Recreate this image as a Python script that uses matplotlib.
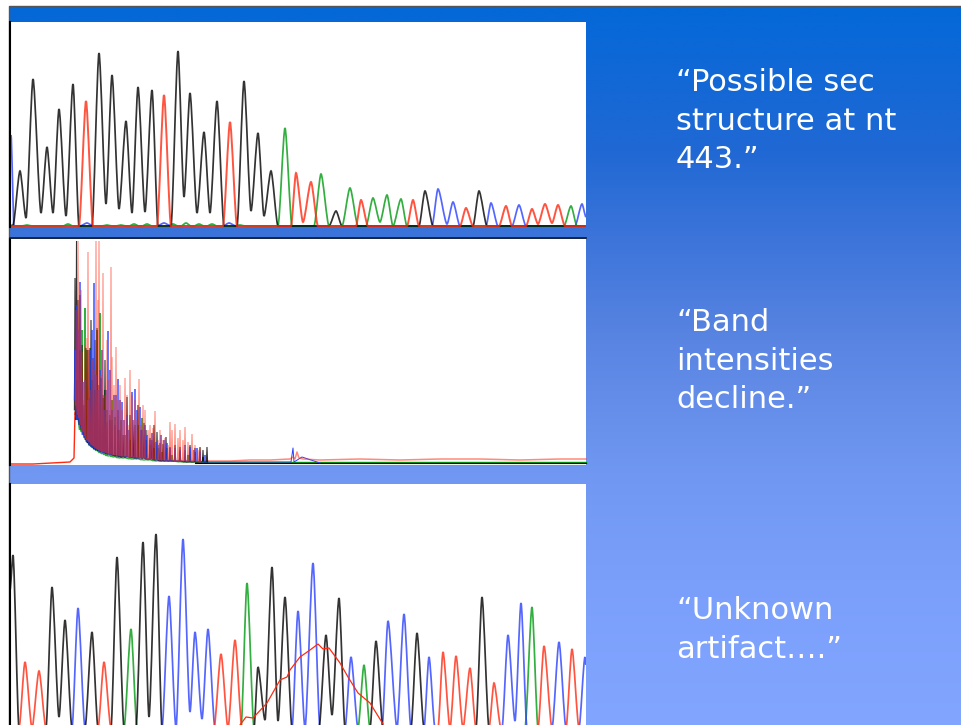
import numpy as np
import matplotlib
matplotlib.use("Agg")
import matplotlib.pyplot as plt
from matplotlib.colors import LinearSegmentedColormap
from matplotlib.patches import PathPatch, Rectangle
from matplotlib.path import Path

BLACK = "#000000"
RED = "#ff2a10"
GREEN = "#009a10"
BLUE = "#2a40ff"

# top trace, turning points of each channel
top_black_x = [10, 13, 20, 26, 33, 41, 47, 53, 59, 66, 73, 79, 92, 99, 106, 112, 119, 126, 132, 138, 145, 152, 158, 171, 178, 184, 190, 197, 204, 210, 217, 224, 237, 244, 251, 258, 264, 271, 278, 329, 336, 342, 419, 425, 433, 473, 479, 487, 586]
top_black_y = [226, 225, 171, 218, 79, 213, 147, 213, 109, 216, 84, 226, 226, 53, 204, 75, 209, 121, 213, 87, 212, 90, 226, 226, 51, 197, 93, 213, 132, 213, 101, 226, 226, 81, 211, 133, 216, 171, 226, 226, 211, 226, 226, 191, 226, 226, 191, 226, 226]
top_red_x = [10, 79, 86, 93, 157, 164, 171, 223, 230, 237, 291, 296, 303, 311, 318, 356, 361, 368, 407, 413, 419, 460, 466, 473, 499, 506, 512, 526, 532, 538, 545, 552, 558, 565, 586]
top_red_y = [226, 226, 101, 226, 226, 95, 226, 226, 122, 226, 226, 173, 222, 182, 226, 226, 200, 226, 226, 200, 226, 226, 208, 226, 226, 206, 226, 226, 209, 224, 204, 223, 205, 226, 226]
top_green_x = [10, 22, 27, 32, 63, 68, 73, 102, 107, 112, 116, 121, 126, 129, 134, 139, 142, 147, 152, 168, 173, 178, 181, 186, 191, 194, 199, 204, 207, 212, 217, 235, 240, 245, 278, 285, 292, 314, 321, 329, 342, 350, 358, 366, 373, 380, 387, 393, 401, 407, 564, 571, 577, 586]
top_green_y = [226, 226, 225, 226, 226, 224, 226, 226, 225, 226, 226, 225, 226, 226, 224, 226, 226, 224, 226, 226, 224, 226, 226, 223, 226, 226, 224, 226, 226, 224, 226, 226, 225, 226, 226, 128, 226, 226, 174, 226, 226, 188, 226, 226, 198, 222, 195, 226, 199, 226, 226, 206, 226, 226]
top_blue_x = [11, 14, 80, 87, 93, 157, 164, 171, 223, 229, 236, 432, 438, 447, 453, 460, 486, 491, 498, 512, 519, 526, 575, 582, 586]
top_blue_y = [135, 226, 226, 223, 226, 226, 223, 226, 226, 223, 226, 226, 189, 224, 202, 226, 226, 203, 226, 226, 205, 226, 226, 204, 217]

# middle trace, one spike per entry
mid_red_x = [78, 82, 87, 88, 92, 96, 99, 103, 108, 111, 112, 116, 120, 125, 130, 135, 139, 145, 150, 155, 160, 165, 170, 175, 180, 185, 192, 200,
             76, 79, 81, 84, 85, 90, 94, 98, 101, 105, 107, 110, 114, 118, 122, 127, 129, 132, 137, 141, 143, 148, 153, 158, 163, 168, 172, 178, 183, 188, 195, 198]
mid_red_top = [241, 352, 338, 252, 360, 241, 241, 273, 380, 267, 357, 347, 385, 378, 370, 400, 379, 410, 425, 411, 430, 438, 422, 424, 430, 427, 434, 448,
               310, 330, 290, 400, 345, 390, 370, 300, 375, 395, 340, 410, 385, 400, 410, 395, 425, 395, 420, 425, 405, 430, 428, 440, 440, 445, 430, 438, 440, 442, 445, 450]
mid_red_foot = [415, 430, 440, 440, 445, 448, 450, 452, 453, 454, 454, 455, 456, 456, 457, 457, 458, 458, 459, 459, 460, 460, 460, 461, 461, 461, 461, 462,
                405, 418, 425, 432, 436, 442, 446, 449, 451, 452, 453, 454, 455, 455, 456, 456, 457, 457, 457, 458, 458, 459, 459, 460, 460, 460, 460, 461, 461, 461, 461, 462]
mid_blue_x = [77, 80, 83, 88, 94, 100, 104, 108, 114, 118, 122, 127, 132, 135, 140, 145, 152, 156, 161, 167, 175, 185, 197, 205,
              75, 78, 81, 85, 90, 92, 96, 98, 102, 106, 110, 112, 116, 120, 124, 129, 137, 142, 147, 150, 158, 164, 170, 180, 190, 194, 200]
mid_blue_top = [305, 282, 382, 400, 283, 370, 410, 331, 395, 379, 402, 415, 392, 389, 407, 425, 433, 442, 435, 443, 448, 445, 448, 455,
                350, 330, 360, 380, 350, 330, 375, 390, 350, 390, 370, 410, 395, 400, 420, 430, 410, 430, 435, 440, 445, 440, 448, 450, 447, 450, 452]
mid_blue_foot = [420, 425, 435, 442, 448, 452, 453, 454, 455, 456, 456, 457, 457, 458, 458, 458, 459, 460, 460, 461, 461, 461, 461, 462,
                 400, 415, 428, 438, 445, 447, 449, 450, 452, 453, 454, 455, 455, 456, 456, 457, 458, 458, 459, 459, 460, 460, 461, 461, 461, 461, 462]
mid_black_x = [75, 76, 76.5, 80, 84, 86, 90, 93, 97, 101, 107, 112, 120, 127, 135, 144, 150, 154, 160, 166, 175, 190, 200, 207,
               77, 78, 82, 88, 91, 95, 99, 103, 105, 110, 115, 118, 123, 130, 133, 138, 141, 146, 152, 157, 163, 170, 180, 185, 195, 203]
mid_black_top = [278, 395, 241, 295, 405, 348, 398, 358, 328, 378, 422, 420, 430, 397, 425, 423, 438, 425, 443, 437, 445, 445, 447, 447,
                 340, 300, 345, 350, 320, 340, 385, 395, 360, 415, 425, 410, 435, 415, 420, 405, 430, 430, 440, 432, 444, 447, 447, 450, 448, 450]
mid_black_foot = [410, 415, 420, 425, 435, 440, 445, 448, 450, 452, 454, 455, 457, 457, 458, 458, 459, 460, 461, 461, 461, 462, 462, 462,
                  415, 418, 430, 443, 446, 449, 451, 452, 453, 454, 456, 456, 457, 457, 458, 458, 458, 459, 459, 460, 461, 461, 461, 462, 462, 462]
mid_green_x = [80, 85, 90, 95, 100, 103, 110, 115, 125, 135, 142, 150, 158, 167, 180, 195,
               77, 82, 87, 92, 97, 105, 107, 112, 118, 121, 130, 138, 146, 154, 162, 172, 188, 203]
mid_green_top = [350, 308, 348, 390, 313, 398, 420, 417, 435, 440, 418, 445, 448, 448, 452, 452,
                 380, 330, 350, 380, 330, 390, 410, 400, 430, 420, 440, 425, 440, 448, 452, 455, 455, 457]
mid_green_foot = [430, 438, 446, 450, 453, 454, 456, 457, 458, 459, 460, 460, 461, 461, 462, 462,
                  415, 432, 442, 447, 451, 455, 456, 457, 458, 458, 459, 459, 460, 461, 461, 461, 462, 462]

# middle trace, flat parts either side of the spikes
mid_lead_x = [10, 33, 70, 74, 75]
mid_lead_y = [464, 464, 462, 458, 412]
mid_tail_red_x = [205, 230, 250, 270, 290, 293, 295, 297, 299, 303, 320, 360, 400, 440, 480, 520, 560, 586]
mid_tail_red_y = [461, 461, 460, 460, 459, 457, 459, 452, 458, 459, 460, 459, 460, 459, 459, 460, 459, 459]
mid_tail_blue_x = [205, 291, 293, 294, 302, 320]
mid_tail_blue_y = [462, 462, 448, 462, 457, 463]
mid_tail_green_x = [195, 300, 586]
mid_tail_green_y = [462, 462, 462]
mid_tail_black_x = [195, 300, 586]
mid_tail_black_y = [463, 463, 463]

# bottom trace
low_black_x = [10, 13, 19, 46, 52, 59, 65, 72, 85, 92, 98, 111, 117, 124, 136, 143, 149, 156, 162, 254, 258, 265, 272, 278, 285, 292, 319, 326, 332, 339, 345, 370, 376, 383, 411, 417, 424, 476, 482, 489, 586]
low_black_y = [590, 555, 728, 728, 587, 717, 620, 728, 728, 632, 728, 728, 557, 728, 728, 542, 717, 534, 728, 728, 667, 720, 567, 721, 597, 728, 728, 635, 715, 598, 728, 728, 641, 728, 728, 633, 728, 728, 597, 728, 728]
low_red_x = [10, 19, 25, 32, 39, 46, 98, 104, 111, 214, 221, 228, 235, 242, 438, 443, 450, 456, 463, 470, 476, 489, 494, 501, 538, 544, 552, 566, 572, 579, 586]
low_red_y = [728, 728, 662, 728, 671, 728, 728, 662, 728, 728, 654, 728, 640, 728, 728, 652, 728, 656, 728, 668, 728, 728, 683, 728, 728, 646, 728, 728, 649, 728, 728]
low_blue_x = [10, 72, 78, 85, 162, 169, 176, 183, 190, 195, 202, 208, 215, 292, 298, 305, 313, 320, 345, 351, 358, 382, 388, 397, 404, 411, 424, 429, 435, 502, 508, 515, 521, 527, 552, 559, 566, 579, 585, 586]
low_blue_y = [728, 728, 608, 728, 728, 596, 728, 539, 712, 632, 719, 629, 728, 728, 611, 728, 563, 728, 728, 657, 728, 728, 621, 728, 614, 728, 728, 657, 728, 728, 635, 721, 603, 728, 728, 642, 728, 728, 657, 665]
low_green_x = [10, 124, 131, 137, 241, 247, 254, 358, 364, 370, 525, 532, 538, 586]
low_green_y = [728, 728, 629, 728, 728, 583, 728, 728, 665, 728, 728, 607, 728, 728]
artifact_x = [240, 246, 253, 267, 280, 287, 290, 300, 310, 318, 323, 329, 340, 348, 358, 370, 383]
artifact_y = [725, 717, 718, 703, 680, 677, 670, 657, 650, 644, 649, 648, 663, 677, 693, 703, 724]

# captions, (line, x, baseline)
caption_lines = ["\u201cPossible sec", "structure at nt", "443.\u201d", "\u201cBand", "intensities", "decline.\u201d", "\u201cUnknown", "artifact\u2026.\u201d"]
caption_x = [676, 676, 676, 676, 676, 676, 676, 676]
caption_y = [91, 130, 168, 331, 370, 408, 619, 658]

gradient_stops = [(0.0, "#0468d8"), (0.2, "#2068d4"), (0.32, "#3c74da"), (0.47, "#5a85e2"), (0.65, "#7098f2"), (0.8, "#7a9ffb"), (1.0, "#82a6ff")]


def smooth_trace(ax, xs, ys, color, clip, lw=1.25):
    # horizontal tangent at every turning point keeps the tops round
    verts = [(xs[0], ys[0])]
    codes = [Path.MOVETO]
    for x0, y0, x1, y1 in zip(xs, ys, xs[1:], ys[1:]):
        dx = (x1 - x0) * 0.25
        verts += [(x0 + dx, y0), (x1 - dx, y1), (x1, y1)]
        codes += [Path.CURVE4] * 3
    patch = PathPatch(Path(verts, codes), fill=False, edgecolor=color, lw=lw, alpha=0.8)
    ax.add_patch(patch)
    patch.set_clip_path(clip)


def spikes(ax, xs, tops, feet, color, clip, lw=0.9, alpha=0.8):
    order = np.argsort(xs)
    px = []
    py = []
    for i in order:
        px += [xs[i] - 0.6, xs[i], xs[i] + 0.6]
        py += [feet[i], tops[i], feet[i]]
    line, = ax.plot(px, py, color=color, lw=lw, alpha=alpha, solid_joinstyle="miter")
    line.set_clip_path(clip)


fig = plt.figure(figsize=(9.61, 7.25), dpi=100)
ax = fig.add_axes([0, 0, 1, 1])
ax.set_xlim(0, 961)
ax.set_ylim(725, 0)
ax.axis("off")

cmap = LinearSegmentedColormap.from_list("slide", gradient_stops)
ramp = np.linspace(0, 1, 256).reshape(-1, 1)
ax.imshow(ramp, cmap=cmap, extent=(9, 961, 725, 6), aspect="auto", zorder=0)
ax.set_xlim(0, 961)
ax.set_ylim(725, 0)
ax.plot([8.5, 8.5, 961], [725, 5.5, 5.5], color="#555555", lw=1, zorder=1)

panels = [(22, 227), (239, 465), (484, 725)]
clips = []
for y0, y1 in panels:
    ax.add_patch(Rectangle((10, y0), 576, y1 - y0, facecolor="white", edgecolor="none", zorder=1))
    ax.plot([10, 10], [y0, y1], color="black", lw=1.5, zorder=4)
    clips.append(Rectangle((10, y0), 576, y1 - y0, transform=ax.transData))
ax.plot([10, 586], [238, 238], color="#101828", lw=1.2, zorder=4)

smooth_trace(ax, top_blue_x, top_blue_y, BLUE, clips[0])
smooth_trace(ax, top_green_x, top_green_y, GREEN, clips[0])
smooth_trace(ax, top_black_x, top_black_y, BLACK, clips[0])
smooth_trace(ax, top_red_x, top_red_y, RED, clips[0], lw=1.4)

ax.plot(mid_lead_x, mid_lead_y, color=RED, lw=1)
ax.plot(mid_tail_green_x, mid_tail_green_y, color=GREEN, lw=1)
ax.plot(mid_tail_black_x, mid_tail_black_y, color=BLACK, lw=0.8)
ax.plot(mid_tail_blue_x, mid_tail_blue_y, color=BLUE, lw=0.7)
ax.plot(mid_tail_red_x, mid_tail_red_y, color=RED, lw=1.1, alpha=0.55)
spikes(ax, mid_green_x, mid_green_top, mid_green_foot, GREEN, clips[1])
spikes(ax, mid_black_x, mid_black_top, mid_black_foot, BLACK, clips[1], lw=0.8)
spikes(ax, mid_blue_x, mid_blue_top, mid_blue_foot, BLUE, clips[1], alpha=0.7)
spikes(ax, mid_red_x, mid_red_top, mid_red_foot, RED, clips[1], lw=0.8, alpha=0.55)

smooth_trace(ax, low_green_x, low_green_y, GREEN, clips[2])
smooth_trace(ax, low_blue_x, low_blue_y, BLUE, clips[2])
smooth_trace(ax, low_black_x, low_black_y, BLACK, clips[2])
smooth_trace(ax, low_red_x, low_red_y, RED, clips[2])
ax.plot(artifact_x, artifact_y, color=RED, lw=0.9, zorder=3)

for line, x, y in zip(caption_lines, caption_x, caption_y):
    ax.text(x, y, line, color="white", fontsize=22, family="DejaVu Sans", va="baseline", ha="left")

fig.savefig("out.png", dpi=100, facecolor="white")
